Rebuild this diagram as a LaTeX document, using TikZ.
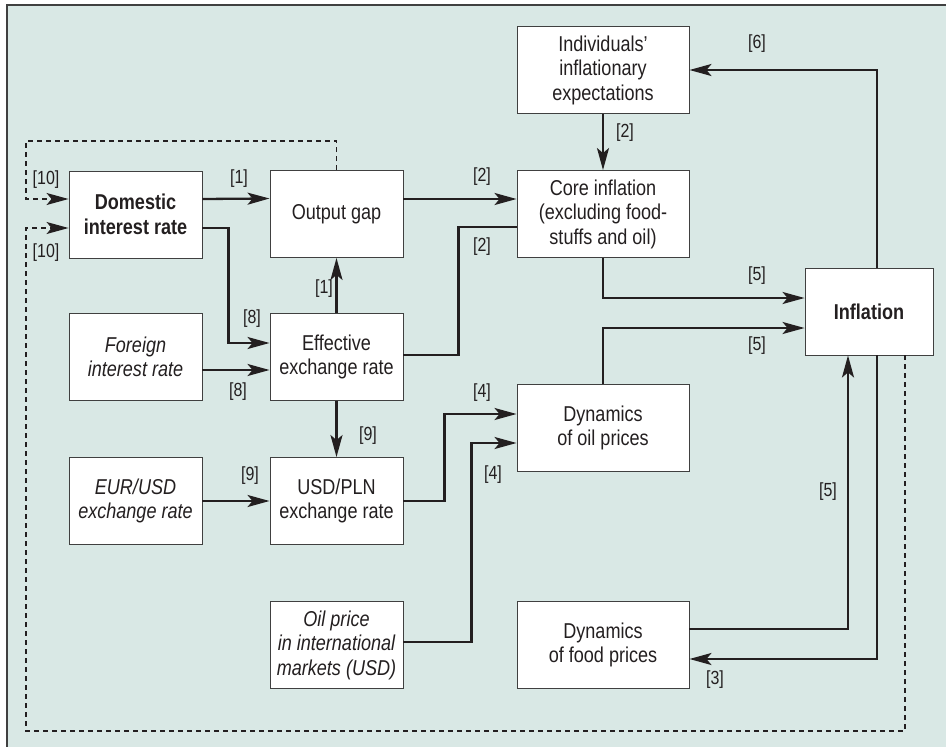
\documentclass[tikz,border=0pt]{standalone}
\usepackage{fontspec}
\setmainfont{Liberation Sans}[FakeStretch=0.84]
\usepackage{tikz}
\usetikzlibrary{arrows.meta}

\definecolor{fundo}{RGB}{217,232,229}
\definecolor{linha}{RGB}{35,31,32}
\definecolor{borda}{RGB}{64,64,64}

\begin{document}
\begin{tikzpicture}[x=1pt, y=-1pt,
    caixa/.style={draw=borda, line width=0.9pt, fill=white, align=center,
      inner sep=0pt, minimum width=133pt, minimum height=87pt,
      font=\fontsize{21.5}{24.5}\selectfont, text=linha},
    larga/.style={caixa, minimum width=172pt},
    seta/.style={line width=2.3pt, draw=linha, -{Stealth[length=22pt,width=12pt,inset=5pt]}},
    liga/.style={line width=2.3pt, draw=linha},
    tracej/.style={line width=1.4pt, draw=linha, dash pattern=on 5pt off 4pt,
      -{Stealth[length=22pt,width=12pt,inset=5pt]}},
    rot/.style={font=\fontsize{19}{22}\selectfont, text=linha}]
      \useasboundingbox (0,0) rectangle (946,747);
      % Fundo
      \fill[fundo] (6,4.5) rectangle (946,747);
      \draw[borda, line width=2pt] (6.5,747) -- (6.5,4.5) -- (946,4.5);

      % Caixas da esquerda
      \node[caixa] (dom) at (135.5, 214.5) {\bfseries Domestic\\\bfseries interest rate};
      \node[caixa] (fir) at (135.5, 357) {\itshape Foreign\\\itshape interest rate};
      \node[caixa] (eur) at (135.5, 501) {\itshape EUR/USD\\\itshape exchange rate};
      % Caixas do meio
      \node[caixa] (gap) at (336.5, 214) {Output gap};
      \node[caixa] (eff) at (336.5, 357) {Effective\\exchange rate};
      \node[caixa] (usd) at (336.5, 501) {USD/PLN\\exchange rate};
      \node[caixa] (oilp) at (336.5, 645) {\itshape Oil price\\\itshape in international\\\itshape markets (USD)};
      % Caixas da direita
      \node[larga] (ind) at (603, 70) {Individuals'\\inflationary\\expectations};
      \node[larga] (core) at (603, 214) {Core inflation\\(excluding food-\\stuffs and oil)};
      \node[larga] (oild) at (603, 428) {Dynamics\\of oil prices};
      \node[larga] (food) at (603, 645) {Dynamics\\of food prices};
      \node[caixa, minimum width=128pt] (inf) at (869, 311.5) {\bfseries Inflation};

      % Ligacoes
      \draw[seta] ([yshift=15.5pt]dom.east) -- ([yshift=15.5pt]gap.west);
      \draw[seta] ([yshift=-13.5pt]dom.east) -- ++(26,0) |- ([yshift=14pt]eff.west);
      \draw[seta] ([yshift=-13pt]fir.east) -- ([yshift=-13pt]eff.west);
      \draw[seta] (eff.north) -- (gap.south);
      \draw[seta] ([yshift=15pt]gap.east) -- ([yshift=15pt]core.west);
      \draw[liga] ([yshift=2pt]eff.east) -- ++(55,0) |- ([yshift=-13pt]core.west);
      \draw[seta] (ind.south) -- (core.north);
      \draw[seta] (core.south) |- ([yshift=13.5pt]inf.west);
      \draw[seta] (oild.north) |- ([yshift=-16.5pt]inf.west);
      \draw[seta] ([xshift=8pt]inf.north) |- (ind.east);
      \draw[seta] ([yshift=16pt]food.east) -| ([xshift=-21pt]inf.south);
      \draw[seta] ([xshift=8pt]inf.south) |- ([yshift=-14pt]food.east);
      \draw[seta] (eff.south) -- (usd.north);
      \draw[seta] (eur.east) -- (usd.west);
      \draw[seta] (usd.east) -- ++(41,0) |- ([yshift=14pt]oild.west);
      \draw[seta] ([yshift=3pt]oilp.east) -- ++(68,0) |- ([yshift=-15pt]oild.west);

      % Realimentacao tracejada
      \coordinate (c1) at (26, 141);
      \coordinate (c2) at (26, 731);
      \draw[tracej] (gap.north) |- (c1) |- ([yshift=15.5pt]dom.west);
      \draw[tracej] ([xshift=36pt]inf.south) |- (c2) |- ([yshift=-13.5pt]dom.west);

      % Rotulos
      \node[rot] (r1a) at (239, 179) {[1]};
      \node[rot] (r1b) at (324, 289) {[1]};
      \node[rot] (r8a) at (252, 319) {[8]};
      \node[rot] (r8b) at (238, 392) {[8]};
      \node[rot] (r2a) at (482, 177) {[2]};
      \node[rot] (r2b) at (482, 247) {[2]};
      \node[rot] (r2c) at (625, 133) {[2]};
      \node[rot] (r6) at (757, 44) {[6]};
      \node[rot] (r5a) at (757, 276) {[5]};
      \node[rot] (r5b) at (757, 346) {[5]};
      \node[rot] (r5c) at (828, 492) {[5]};
      \node[rot] (r3) at (715, 680) {[3]};
      \node[rot] (r9a) at (368, 436) {[9]};
      \node[rot] (r9b) at (250, 476) {[9]};
      \node[rot] (r4a) at (482, 393) {[4]};
      \node[rot] (r4b) at (493, 475) {[4]};
      \node[rot] (r10a) at (46, 180) {[10]};
      \node[rot] (r10b) at (46, 253) {[10]};
\end{tikzpicture}
\end{document}
